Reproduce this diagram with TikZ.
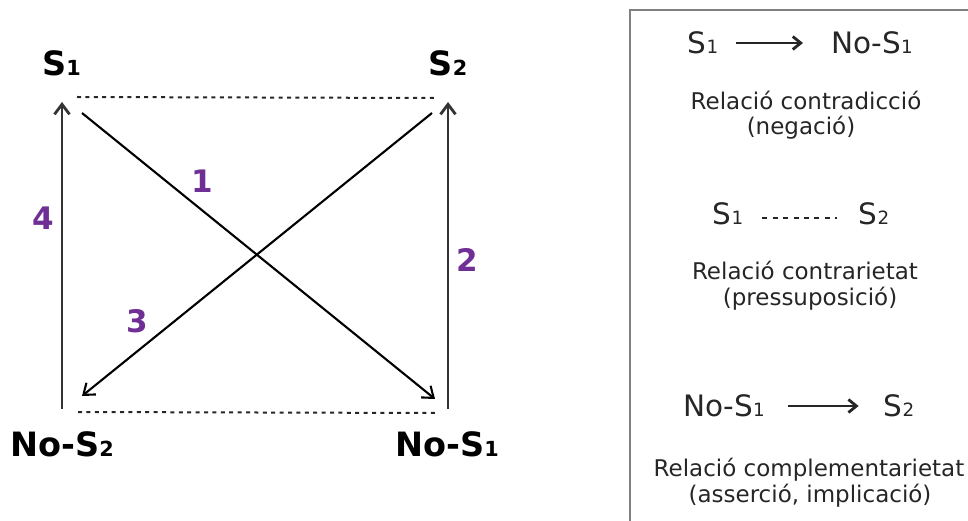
\documentclass[tikz,border=0pt]{standalone}
\usepackage{fontspec}
\setmainfont{DejaVu Sans}
\usetikzlibrary{arrows.meta}
\definecolor{purp}{HTML}{702F94}
\definecolor{txtc}{HTML}{262626}
\definecolor{boxc}{HTML}{808080}
\newcommand\lsub[1]{\scalebox{0.62}{#1}}
\begin{document}
\begin{tikzpicture}[x=1pt,y=-1pt,
 lbl/.style={font={\fontsize{33.5}{38}\selectfont\bfseries}, inner sep=0pt},
 num/.style={font={\fontsize{31}{36}\selectfont\bfseries}, text=purp, inner sep=0pt},
 frm/.style={font={\fontsize{29.5}{34}\selectfont}, text=txtc, inner sep=0pt},
 desc/.style={font={\fontsize{23}{27}\selectfont}, text=txtc, inner sep=0pt, anchor=base},
 varr/.style={draw=black!80, line width=2.8pt, -{Straight Barb[length=10pt,width=15pt]}},
 darr/.style={draw=black, line width=2.1pt, -{Straight Barb[length=10pt,width=15pt]}},
 dots/.style={draw=black!85, line width=2pt, dash pattern=on 4pt off 4.4pt},
 rarr/.style={draw=txtc, line width=2.8pt, -{Straight Barb[length=8pt,width=13pt]}},
 rdots/.style={draw=txtc, line width=2.8pt, dash pattern=on 5pt off 5.4pt},
 boxl/.style={draw=boxc, line width=2pt}
]
\useasboundingbox (0,0) rectangle (968,521);

% ---- left diagram: labels
\node[lbl] (s1) at (61.5,63) {S\lsub{1}};
\node[lbl] (s2) at (448,63) {S\lsub{2}};
\node[lbl] (ns2) at (62,444) {No-S\lsub{2}};
\node[lbl] (ns1) at (447,444) {No-S\lsub{1}};

% corners of the square
\coordinate (tl) at (62,102);
\coordinate (tr) at (448,102);
\coordinate (bl) at (62,409);
\coordinate (br) at (448,409);
\coordinate (d1s) at (82,113);
\coordinate (d1e) at (435,399);
\coordinate (d3s) at (432,113);
\coordinate (d3e) at (82,396);
\coordinate (t1) at (77,97);
\coordinate (t2) at (437,98);
\coordinate (b1) at (78,412);
\coordinate (b2) at (438,413);

\draw[dots] (t1) -- (t2);
\draw[dots] (b1) -- (b2);
\draw[varr] (bl) -- (tl);
\draw[varr] (br) -- (tr);
\draw[darr] (d1s) -- (d1e);
\draw[darr] (d3s) -- (d3e);

\node[num] (n1) at (202,181) {1};
\node[num] (n2) at (467,260) {2};
\node[num] (n3) at (137,321) {3};
\node[num] (n4) at (43,218) {4};

% ---- right panel
\coordinate (bxtr) at (968,10);
\coordinate (bxtl) at (630,10);
\coordinate (bxbl) at (630,521);
\draw[boxl] (bxtr) -- (bxtl) -- (bxbl);

\node[frm] (r1a) at (703,43) {S\lsub{1}};
\node[frm] (r1b) at (872,43) {No-S\lsub{1}};
\draw[rarr, shorten <=18pt, shorten >=28pt] (r1a) -- (r1b);
\node[desc] (t1a) at (806,110) {Relació contradicció};
\node[desc] (t1b) at (801,135) {(negació)};

\node[frm] (r2a) at (728,214) {S\lsub{1}};
\node[frm] (r2b) at (874,214) {S\lsub{2}};
\draw[rdots, shorten <=19pt, shorten >=22pt] ([yshift=-4pt]r2a.east) -- ([yshift=-4pt]r2b.west);
\node[desc] (t2a) at (805,279) {Relació contrarietat};
\node[desc] (t2b) at (810,305) {(pressuposició)};

\node[frm] (r3a) at (724,406) {No-S\lsub{1}};
\node[frm] (r3b) at (899,406) {S\lsub{2}};
\draw[rarr, shorten <=23pt, shorten >=25pt] (r3a) -- (r3b);
\node[desc] (t3a) at (809,476) {Relació complementarietat};
\node[desc] (t3b) at (810,502) {(asserció, implicació)};
\end{tikzpicture}
\end{document}
